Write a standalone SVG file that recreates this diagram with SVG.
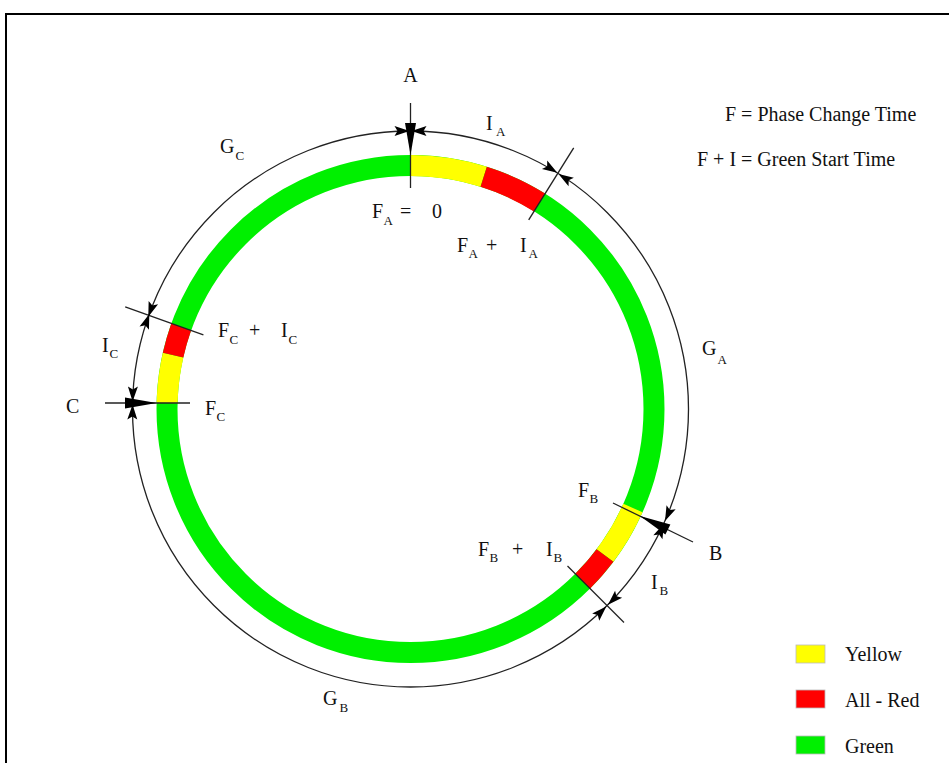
<svg xmlns="http://www.w3.org/2000/svg" xmlns:xlink="http://www.w3.org/1999/xlink" width="949" height="763" viewBox="0 0 949 763">
<style>
text{font-family:"Liberation Serif","Times New Roman",serif;font-size:20px;fill:#111;}
.sub{font-size:13px;}
.ln{stroke:#222;stroke-width:1.3;fill:none;}
.ah{fill:#000;}
.seg{fill:none;stroke-width:21;stroke-linecap:butt;}
</style>
<defs>
<path id="ah" d="M0,0 L-15,-5 L-12,0 L-15,5 Z"/>
</defs>
<rect width="949" height="763" fill="#fff"/>
<rect x="6" y="14" width="960" height="800" fill="none" stroke="#000" stroke-width="2"/>

<g id="ring">
<circle cx="410.5" cy="409" r="243.5" class="seg" stroke="#00F000"/>
<path class="seg" stroke="#FFFF00" d="M410.5,165.5 A243.5,243.5 0 0 1 483.7,176.8"/>
<path class="seg" stroke="#FF0000" d="M483.7,176.8 A243.5,243.5 0 0 1 539.5,202.5"/>
<path class="seg" stroke="#FFFF00" d="M632.9,508 A243.5,243.5 0 0 1 605,555.5"/>
<path class="seg" stroke="#FF0000" d="M605,555.5 A243.5,243.5 0 0 1 582.7,581.2"/>
<path class="seg" stroke="#FFFF00" d="M167.1,403.1 A243.5,243.5 0 0 1 173.1,355.1"/>
<path class="seg" stroke="#FF0000" d="M173.1,355.1 A243.5,243.5 0 0 1 181.2,326.9"/>
</g>

<g id="connectors">
<circle cx="410.5" cy="409" r="278" class="ln"/>
<g id="marker-A">
<line class="ln" x1="410.5" y1="103" x2="410.5" y2="188"/>
<polygon class="ah" points="410.5,155 405,123 416,123"/>
<use xlink:href="#ah" class="ah" transform="translate(409.5,131) rotate(0)"/>
<use xlink:href="#ah" class="ah" transform="translate(411.5,131) rotate(180)"/>
</g>
<g id="marker-AI">
<line class="ln" x1="528.7" y1="219.9" x2="573.7" y2="147.8"/>
<use xlink:href="#ah" class="ah" transform="translate(557.3,172.8) rotate(32)"/>
<use xlink:href="#ah" class="ah" transform="translate(558.5,174) rotate(212)"/>
</g>
<g id="marker-B">
<line class="ln" x1="613" y1="503" x2="693" y2="542"/>
<polygon class="ah" points="640,516 670.4,524.6 665.4,534.6"/>
<use xlink:href="#ah" class="ah" transform="translate(665,521) rotate(114)"/>
<use xlink:href="#ah" class="ah" transform="translate(664,523.5) rotate(294)"/>
</g>
<g id="marker-BI">
<line class="ln" x1="567.5" y1="566" x2="624" y2="622.5"/>
<use xlink:href="#ah" class="ah" transform="translate(608,604.8) rotate(135)"/>
<use xlink:href="#ah" class="ah" transform="translate(606.3,606.5) rotate(315)"/>
</g>
<g id="marker-C">
<line class="ln" x1="105" y1="403" x2="190" y2="403"/>
<polygon class="ah" points="156.6,403 125,397.5 125,408.5"/>
<use xlink:href="#ah" class="ah" transform="translate(132.6,401.5) rotate(91.2)"/>
<use xlink:href="#ah" class="ah" transform="translate(132.6,404.5) rotate(271.2)"/>
</g>
<g id="marker-CI">
<line class="ln" x1="203.4" y1="334.8" x2="125.2" y2="306.9"/>
<use xlink:href="#ah" class="ah" transform="translate(148.3,316.7) rotate(109.7)"/>
<use xlink:href="#ah" class="ah" transform="translate(149.3,314) rotate(289.7)"/>
</g>
</g>

<g id="labels">
<text x="410.5" y="82" text-anchor="middle">A</text>
<text x="486" y="130">I<tspan class="sub" x="496" y="136">A</tspan></text>
<text x="372" y="218">F<tspan class="sub" x="383.5" y="225">A</tspan><tspan x="400" y="218">=</tspan><tspan x="432" y="218">0</tspan></text>
<text x="457" y="252">F<tspan class="sub" x="468.5" y="258">A</tspan><tspan x="486" y="252">+</tspan><tspan x="520" y="252">I</tspan><tspan class="sub" x="528.5" y="258">A</tspan></text>
<text x="220" y="153">G<tspan class="sub" x="235.5" y="160">C</tspan></text>
<text x="702" y="355">G<tspan class="sub" x="717.5" y="364">A</tspan></text>
<text x="323" y="705">G<tspan class="sub" x="339.5" y="712">B</tspan></text>
<text x="102" y="352">I<tspan class="sub" x="109.5" y="358">C</tspan></text>
<text x="66" y="413">C</text>
<text x="205" y="415">F<tspan class="sub" x="216.5" y="421">C</tspan></text>
<text x="218" y="337">F<tspan class="sub" x="229.5" y="344">C</tspan><tspan x="249" y="337">+</tspan><tspan x="281" y="337">I</tspan><tspan class="sub" x="288.5" y="344">C</tspan></text>
<text x="578" y="497">F<tspan class="sub" x="589.5" y="503">B</tspan></text>
<text x="709" y="560">B</text>
<text x="478" y="556">F<tspan class="sub" x="489.5" y="562">B</tspan><tspan x="512" y="556">+</tspan><tspan x="546" y="556">I</tspan><tspan class="sub" x="553.5" y="562">B</tspan></text>
<text x="651" y="589">I<tspan class="sub" x="659.5" y="595">B</tspan></text>
<text x="725" y="121">F = Phase Change Time</text>
<text x="697" y="166">F + I = Green Start Time</text>
</g>

<g id="legend">
<g id="legend-yellow"><rect x="796" y="645" width="29" height="18" fill="#FFFF00" stroke="#bbb" stroke-width="0.8"/><text x="845" y="661">Yellow</text></g>
<g id="legend-red"><rect x="796" y="690" width="29" height="18" fill="#FF0000" stroke="#bbb" stroke-width="0.8"/><text x="845" y="707">All - Red</text></g>
<g id="legend-green"><rect x="796" y="736" width="29" height="18" fill="#00F000" stroke="#bbb" stroke-width="0.8"/><text x="845" y="753">Green</text></g>
</g>
</svg>
